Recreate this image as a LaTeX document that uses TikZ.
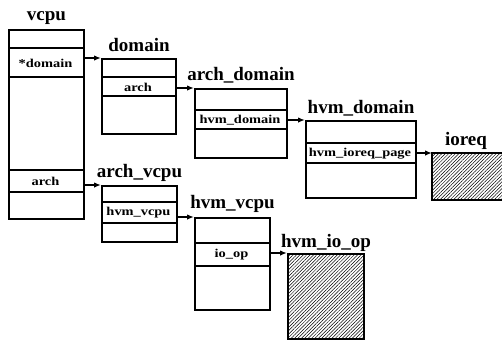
\documentclass[tikz,border=0pt]{standalone}
\usepackage{fontspec}
\setmainfont{Liberation Serif}
\newfontfamily\rowfont[FakeStretch=1.2]{Liberation Serif}
\usetikzlibrary{arrows.meta,patterns.meta}
\begin{document}
\begin{tikzpicture}[x=1pt,y=-1pt,
 box/.style={draw, line width=2pt, inner sep=0pt, anchor=north west},
 title/.style={font=\bfseries\fontsize{19}{19}\selectfont, anchor=base, inner sep=0pt},
 field/.style={font=\rowfont\bfseries\fontsize{12}{12}\selectfont, inner sep=0pt},
 sep/.style={line width=2pt},
 arr/.style={line width=1.4pt, -{Latex[length=7pt,width=5.5pt]}},
 hatch/.style={pattern={Lines[angle=45,distance=2.4pt,line width=0.5pt]}}]
\useasboundingbox (0,0) rectangle (502,341);

% vcpu
\node[box, minimum width=75pt, minimum height=189pt] (vcpu) at (8,29) {};
\node[title] (tvcpu) at ([yshift=9pt]vcpu.north) {vcpu};
\draw[sep] (vcpu.west |- 0,48) -- (vcpu.east |- 0,48);
\draw[sep] (vcpu.west |- 0,77) -- (vcpu.east |- 0,77);
\draw[sep] (vcpu.west |- 0,170) -- (vcpu.east |- 0,170);
\draw[sep] (vcpu.west |- 0,192) -- (vcpu.east |- 0,192);
\node[field] (fdom) at (45.5,63) {*domain};
\node[field] (farch) at (45.5,181.5) {arch};

% domain
\node[box, minimum width=74pt, minimum height=75pt] (domain) at (101,58) {};
\node[title] (tdomain) at ([yshift=7pt]domain.north) {domain};
\draw[sep] (domain.west |- 0,77) -- (domain.east |- 0,77);
\draw[sep] (domain.west |- 0,96) -- (domain.east |- 0,96);
\node[field] (fdarch) at (138,87) {arch};

% arch_domain
\node[box, minimum width=92pt, minimum height=69pt] (archdom) at (194,88) {};
\node[title] (tarchdom) at ([yshift=8pt]archdom.north) {arch\_domain};
\draw[sep] (archdom.west |- 0,110) -- (archdom.east |- 0,110);
\draw[sep] (archdom.west |- 0,129) -- (archdom.east |- 0,129);
\node[field] (fhvmdom) at (240,120) {hvm\_domain};

% hvm_domain
\node[box, minimum width=110pt, minimum height=77pt] (hvmdom) at (305,120) {};
\node[title] (thvmdom) at ([yshift=7pt]hvmdom.north) {hvm\_domain};
\draw[sep] (hvmdom.west |- 0,143) -- (hvmdom.east |- 0,143);
\draw[sep] (hvmdom.west |- 0,163) -- (hvmdom.east |- 0,163);
\node[field] (fioreqpage) at (360,153.5) {hvm\_ioreq\_page};

% ioreq
\node[box, hatch, minimum width=80pt, minimum height=47pt] (ioreq) at (432,153) {};
\node[title] (tioreq) at (466,145) {ioreq};

% arch_vcpu
\node[box, minimum width=75pt, minimum height=56pt] (archvcpu) at (101,185) {};
\node[title] (tarchvcpu) at ([yshift=8pt]archvcpu.north) {arch\_vcpu};
\draw[sep] (archvcpu.west |- 0,202) -- (archvcpu.east |- 0,202);
\draw[sep] (archvcpu.west |- 0,223) -- (archvcpu.east |- 0,223);
\node[field] (fhvmvcpu) at (138.5,213) {hvm\_vcpu};

% hvm_vcpu
\node[box, minimum width=75pt, minimum height=92pt] (hvmvcpu) at (194,217) {};
\node[title] (thvmvcpu) at ([yshift=9pt]hvmvcpu.north) {hvm\_vcpu};
\draw[sep] (hvmvcpu.west |- 0,243) -- (hvmvcpu.east |- 0,243);
\draw[sep] (hvmvcpu.west |- 0,266) -- (hvmvcpu.east |- 0,266);
\node[field] (fioop) at (231.5,255) {io\_op};

% hvm_io_op
\node[box, hatch, minimum width=76pt, minimum height=85pt] (hvmioop) at (287,253) {};
\node[title] (thvmioop) at ([yshift=6pt]hvmioop.north) {hvm\_io\_op};

% arrows
\draw[arr] (vcpu.east |- domain.north west) -- (domain.north west);
\draw[arr] (domain.east |- archdom.north west) -- (archdom.north west);
\draw[arr] (archdom.east |- hvmdom.north west) -- (hvmdom.north west);
\draw[arr] (hvmdom.east |- ioreq.north west) -- (ioreq.north west);
\draw[arr] (vcpu.east |- archvcpu.north west) -- (archvcpu.north west);
\draw[arr] (archvcpu.east |- hvmvcpu.north west) -- (hvmvcpu.north west);
\draw[arr] (hvmvcpu.east |- hvmioop.north west) -- (hvmioop.north west);
\end{tikzpicture}
\end{document}
